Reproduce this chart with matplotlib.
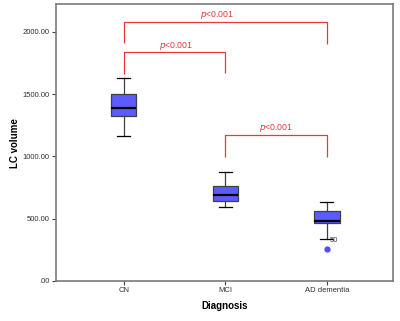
import matplotlib.pyplot as plt

# Box statistics
groups = ["CN", "MCI", "AD dementia"]
whisker_low = [1163, 595, 338]
q1 = [1327, 643, 466]
median = [1388, 686, 477]
q3 = [1501, 764, 558]
whisker_high = [1629, 871, 630]
outliers = [[], [], [252]]
outlier_labels = [[], [], ["50"]]

# Significance brackets: (left group, right group, bar height, left leg end, right leg end)
bracket_pairs = [(0, 2), (0, 1), (1, 2)]
bracket_top = [2077, 1841, 1171]
bracket_left_end = [1908, 1661, 992]
bracket_right_end = [1900, 1667, 992]
bracket_text = ["p<0.001", "p<0.001", "p<0.001"]
yticks = [0, 500, 1000, 1500, 2000]
ytick_labels = [".00", "500.00", "1000.00", "1500.00", "2000.00"]

plt.rcParams['font.family'] = ['Liberation Sans', 'DejaVu Sans']

fig = plt.figure(figsize=(4.0, 3.21), dpi=100)
ax = fig.add_axes([0.14, 0.1255, 0.843, 0.8605])

stats = []
for i, g in enumerate(groups):
    stats.append({
        "label": g,
        "whislo": whisker_low[i],
        "q1": q1[i],
        "med": median[i],
        "q3": q3[i],
        "whishi": whisker_high[i],
        "fliers": outliers[i],
    })

ax.bxp(
    stats,
    positions=range(len(groups)),
    widths=0.25,
    patch_artist=True,
    showfliers=True,
    boxprops=dict(facecolor="#5b5bff", edgecolor="#404040", linewidth=0.9),
    medianprops=dict(color="black", linewidth=1.6),
    whiskerprops=dict(color="#404040", linewidth=0.9),
    capprops=dict(color="black", linewidth=0.9),
    capwidths=0.13,
    flierprops=dict(marker="o", markerfacecolor="#5050f0", markeredgecolor="#5050f0",
                    markersize=3.5),
)

for i, labs in enumerate(outlier_labels):
    for val, lab in zip(outliers[i], labs):
        ax.text(i + 0.03, val + 45, lab, fontsize=5.5, color="#404040",
                ha="left", va="bottom")

red = "#e8383d"
for k, (a, b) in enumerate(bracket_pairs):
    top = bracket_top[k]
    ax.plot([a, a, b, b], [bracket_left_end[k], top, top, bracket_right_end[k]],
            color=red, linewidth=0.9, solid_capstyle="butt")

# label positions
text_x = [0.92, 0.52, 1.5]
text_y = [2136, 1890, 1230]
for k in range(len(bracket_pairs)):
    t = bracket_text[k]
    ax.text(text_x[k], text_y[k], "$\\it{p}$" + t[1:], color=red, fontsize=6.3,
            ha="center", va="center")

ax.set_xlim(-0.666, 2.653)
ax.set_ylim(0, 2221)
ax.set_xticks(range(len(groups)))
ax.set_xticklabels(groups)
ax.set_yticks(yticks)
ax.set_yticklabels(ytick_labels)
ax.tick_params(axis="both", labelsize=5.5, labelcolor="#303030", color="#404040",
               length=3, width=0.8, direction="out", pad=1.5)

for s in ax.spines.values():
    s.set_color("#7a7a7a")
    s.set_linewidth(1.2)

ax.set_xlabel("Diagnosis", fontsize=7, fontweight="bold")
ax.set_ylabel("LC volume", fontsize=7, fontweight="bold")
ax.xaxis.set_label_coords(0.5, -0.09)
ax.yaxis.set_label_coords(-0.122, 0.5)
ax.xaxis.label.set_va("center")
ax.yaxis.label.set_va("center")

fig.savefig("out.png", dpi=100)
